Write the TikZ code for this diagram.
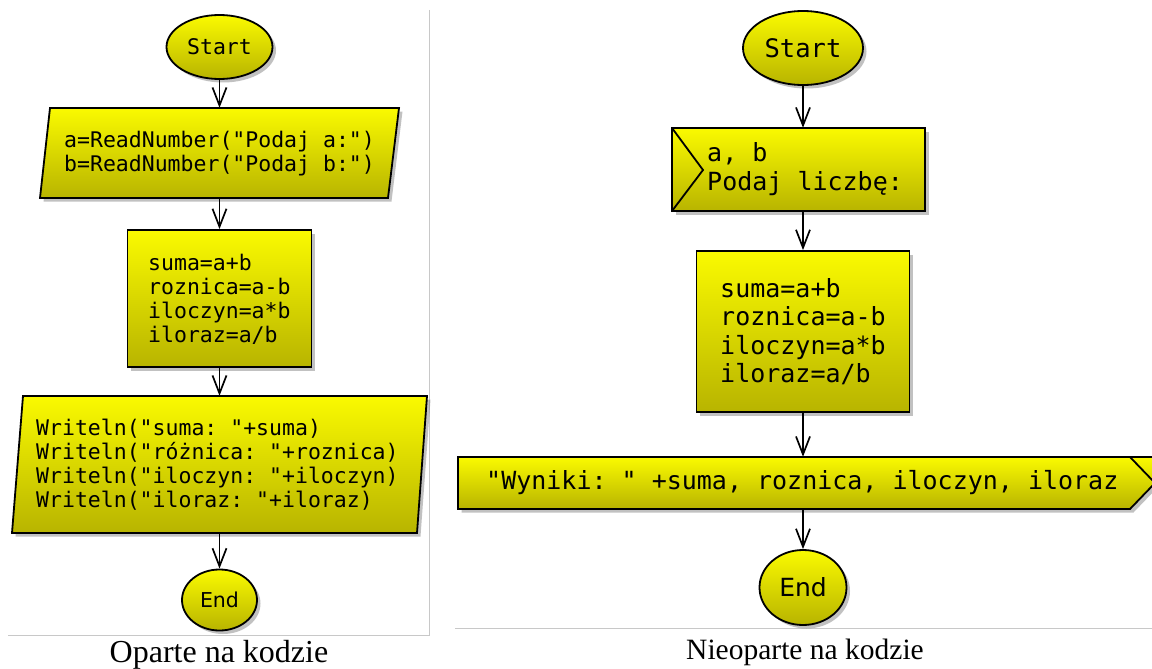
\documentclass[tikz,border=0pt]{standalone}
\usepackage{fontspec}
\setmainfont{Liberation Serif}
\setmonofont{DejaVu Sans Mono}
\newfontfamily\labelsans{DejaVu Sans}
\usetikzlibrary{shapes.geometric,shadows,arrows.meta}
\definecolor{fcTop}{RGB}{250,250,0}
\definecolor{fcBot}{RGB}{184,180,0}
\definecolor{frameGray}{RGB}{200,200,200}

\tikzset{
  blockfill/.style={draw=black, line width=1.8pt, line join=miter,
    top color=fcTop, bottom color=fcBot,
    drop shadow={shadow xshift=3.5pt, shadow yshift=-3.5pt, fill=black!60, opacity=0.4}},
  terminal/.style={blockfill, ellipse, inner sep=0pt},
  procbox/.style={blockfill, rectangle, inner sep=0pt},
  area/.style={rectangle, inner sep=0pt, draw=none, fill=none},
  notch/.style={draw=black, line width=1.8pt, line join=miter},
  flow/.style={draw, line width=1.7pt, -{Straight Barb[length=18pt,width=14pt]}},
  codeL/.style={anchor=west, align=left, inner sep=0pt, font=\ttfamily\fontsize{21.5}{24}\selectfont},
  codeR/.style={anchor=west, align=left, inner sep=0pt, font=\ttfamily\fontsize{25}{28.4}\selectfont},
  frame/.style={draw=frameGray, line width=1pt},
  caption/.style={anchor=base, inner sep=0pt}
}

\begin{document}
\begin{tikzpicture}[x=1pt,y=-1pt]
\useasboundingbox (0,0) rectangle (1152,669);
\fill[white] (0,0) rectangle (1152,669);
\clip (0,0) rectangle (1152,669);

% panel frames
\draw[frame] (429,10) -- (429,635) -- (8,635);
\draw[frame] (455,628) -- (1152,628);

% ---- code-based flowchart ----
\node[terminal, minimum width=106, minimum height=64,
      font=\ttfamily\fontsize{21.5}{24}\selectfont] (startL) at (219.5,47) {Start};

\path[blockfill] (50,108) -- (399,108) -- (388,198) -- (40,198) -- cycle;
\node[area, minimum width=359, minimum height=90] (inL) at (219.5,153) {};
\node[codeL] (inLtxt) at (64,154) {a=ReadNumber("Podaj a:")\\b=ReadNumber("Podaj b:")};

\node[procbox, minimum width=184, minimum height=137] (procL) at (219.5,298.5) {};
\node[codeL] (procLtxt) at (148,299) {suma=a+b\\roznica=a-b\\iloczyn=a*b\\iloraz=a/b};

\path[blockfill] (23,396) -- (427,396) -- (417,533) -- (12,533) -- cycle;
\node[area, minimum width=415, minimum height=137] (outL) at (219.5,464.5) {};
\node[codeL] (outLtxt) at (36,464.5) {Writeln("suma: "+suma)\\Writeln("różnica: "+roznica)\\Writeln("iloczyn: "+iloczyn)\\Writeln("iloraz: "+iloraz)};

\node[terminal, minimum width=75, minimum height=61,
      font=\labelsans\fontsize{20.5}{24}\selectfont] (endL) at (219.5,600) {End};

\draw[flow] (startL.south) -- (inL.north);
\draw[flow] (inL.south) -- (procL.north);
\draw[flow] (procL.south) -- (outL.north);
\draw[flow] (outL.south) -- (endL.north);

\node[caption, font=\fontsize{32}{36}\selectfont] (capL) at (219,662) {Oparte na kodzie};

% ---- flowchart without code ----
\node[terminal, minimum width=120, minimum height=74,
      font=\ttfamily\fontsize{25.5}{28}\selectfont] (startR) at (803,48) {Start};

\path[blockfill] (672,128) rectangle (925,211);
\draw[notch] (672,128) -- (703,170) -- (672,211);
\node[area, minimum width=253, minimum height=83] (inR) at (798.5,169.5) {};
\node[codeR] (inRtxt) at (707,169) {a, b\\Podaj liczbę:};

\node[procbox, minimum width=213, minimum height=161] (procR) at (803,331.5) {};
\node[codeR] (procRtxt) at (720,331.5) {suma=a+b\\roznica=a-b\\iloczyn=a*b\\iloraz=a/b};

\path[blockfill] (458,457) -- (1180,457) -- (1130,509) -- (458,509) -- cycle;
\draw[notch] (1130,457) -- (1155,483);
\node[area, minimum width=722, minimum height=52] (outR) at (819,483) {};
\node[codeR] (outRtxt) at (486,483) {"Wyniki: " +suma, roznica, iloczyn, iloraz};

\node[terminal, minimum width=87, minimum height=75,
      font=\labelsans\fontsize{25}{28}\selectfont] (endR) at (803,587.5) {End};

\draw[flow] (startR.south) -- (startR.south |- inR.north);
\draw[flow] (startR.south |- inR.south) -- (procR.north);
\draw[flow] (procR.south) -- (procR.south |- outR.north);
\draw[flow] (procR.south |- outR.south) -- (endR.north);

\node[caption, font=\fontsize{29.5}{34}\selectfont] (capR) at (805,659) {Nieoparte na kodzie};
\end{tikzpicture}
\end{document}
